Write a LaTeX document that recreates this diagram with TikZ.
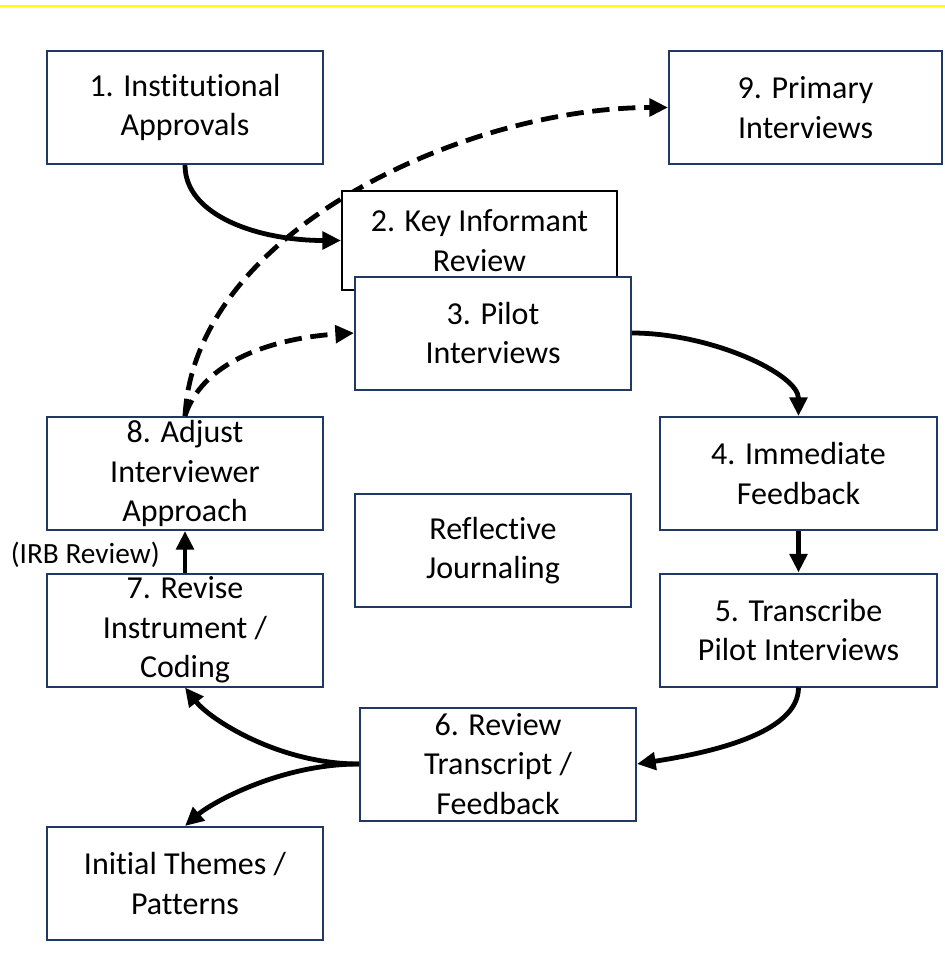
\documentclass[tikz,border=0pt]{standalone}
\usepackage{fontspec}
\setmainfont{Carlito}[Ligatures=NoCommon]
\usetikzlibrary{arrows.meta}
\pgfdeclarelayer{bg}
\pgfsetlayers{bg,main}
\definecolor{navy}{HTML}{1F3864}
\definecolor{bar}{HTML}{FFFF00}
\begin{document}
\begin{tikzpicture}[x=0.75pt,y=-0.75pt,
  every node/.style={font=\fontsize{24pt}{29.5pt}\selectfont, text=black},
  box/.style={draw=navy, line width=1.5pt, fill=white, align=center,
    minimum width=207pt, minimum height=84.75pt, inner sep=0pt},
  flow/.style={line width=3.6pt, -{Triangle[length=14pt,width=13pt]}},
  loopback/.style={flow, dash pattern=on 13pt off 6.5pt}]

\useasboundingbox (0,0) rectangle (945,970);
\draw[bar, line width=2pt] (0,6) -- (945,6);

% process boxes
\node[box] (n1) at (185,107.5) {1. Institutional\\Approvals};
\node[box, minimum width=204.75pt] (n9) at (805.5,107.5) {9. Primary\\Interviews};
\node[box, draw=black, minimum width=206.25pt, minimum height=74.25pt] (n2) at (479.5,240.5) {2. Key Informant\\Review};
\node[box] (n3) at (493,333) {3. Pilot\\Interviews};
\node[box] (n8) at (185,473.5) {8. Adjust\\Interviewer\\Approach};
\node[box] (n7) at (185,630) {7. Revise\\Instrument /\\Coding};
\node[box] (rj) at (493,550.5) {Reflective\\Journaling};
\node[box, minimum width=207.75pt] (n4) at (798.5,473.5) {4. Immediate\\Feedback};
\node[box, minimum width=207.75pt] (n5) at (798.5,630) {5. Transcribe\\Pilot Interviews};
\node[box] (n6) at (498,764) {6. Review\\Transcript /\\Feedback};
\node[box] (it) at (185,883.5) {Initial Themes /\\Patterns};

\node[anchor=east, inner sep=0pt, font=\fontsize{22pt}{26pt}\selectfont] (irb) at (160,555) {(IRB Review)};

% forward flow
\draw[flow] (n1.south) .. controls +(0,51) and +(-82,0) .. (n2.west);
\draw[flow] (n3.east) .. controls +(79,0) and +(0,-42) .. (n4.north);
\draw[flow] (n4.south) -- (n5.north);
\draw[flow] (n5.south) .. controls +(0,43) and +(84,-13) .. (n6.east);
\draw[flow] (n6.west) .. controls +(-80,0) and +(25,32) .. (n7.south);
\draw[flow] (n6.west) .. controls +(-80,0) and +(25,-22) .. (it.north);
\draw[flow] (n7.north) -- (n8.south);

% iteration loops
\draw[loopback] (n8.north) .. controls +(20,-62) and +(-65,4) .. (n3.west);
\begin{pgfonlayer}{bg}
\draw[loopback] (n8.north) .. controls +(10,-187) and +(-199,0) .. (n9.west);
\end{pgfonlayer}
\end{tikzpicture}
\end{document}
